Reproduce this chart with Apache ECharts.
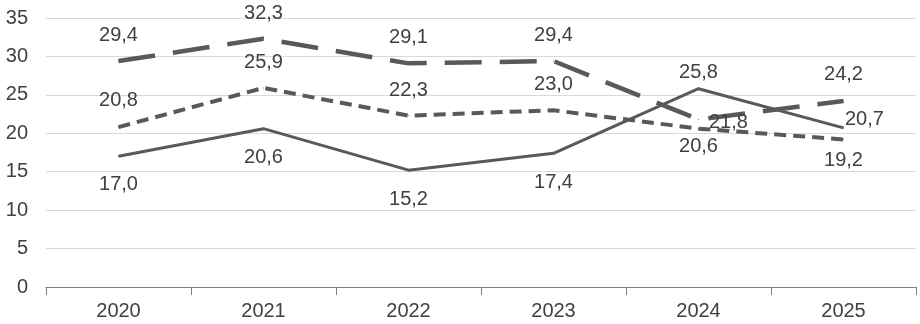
<!DOCTYPE html>
<html>
<head>
<meta charset="utf-8">
<script src="https://cdn.jsdelivr.net/npm/echarts@6/dist/echarts.min.js"></script>
<style>
  html, body { margin: 0; padding: 0; background: #fff; }
  #chart { width: 920px; height: 324px; }
</style>
</head>
<body>
<div id="chart"></div>
<script>
  let years = ['2020', '2021', '2022', '2023', '2024', '2025'];
  let longDash = [29.4, 32.3, 29.1, 29.4, 21.8, 24.2];
  let shortDash = [20.8, 25.9, 22.3, 23.0, 20.6, 19.2];
  let solid = [17.0, 20.6, 15.2, 17.4, 25.8, 20.7];

  // label placement per point (kept apart from the values)
  let longPos = [['top', 15], ['top', 15], ['top', 15], ['top', 15], ['right', 10, 3], ['top', 16]];
  let shortPos = [['top', 16], ['top', 15], ['top', 15], ['top', 15], ['bottom', 7], ['bottom', 11]];
  let solidPos = [['bottom', 18], ['bottom', 18], ['bottom', 19], ['bottom', 19], ['top', 6], ['right', 1, -8]];

  function fmt(v) {
    return v.toFixed(1).replace('.', ',');
  }

  function build(values, pos) {
    return values.map(function (v, i) {
      let p = pos[i];
      return {
        value: v,
        label: {
          position: p[0],
          distance: p[1],
          offset: [0, p[2] || 0]
        }
      };
    });
  }

  let labelStyle = {
    show: true,
    color: '#404040',
    fontSize: 20,
    fontFamily: 'Liberation Sans, Arial, sans-serif',
    formatter: function (p) { return fmt(p.value); }
  };

  let option = {
    animation: false,
    grid: {
      left: 46,
      right: 4,
      top: 18,
      bottom: 37
    },
    xAxis: {
      type: 'category',
      data: years,
      boundaryGap: true,
      axisLine: { lineStyle: { color: '#7f7f7f', width: 1 } },
      axisTick: { show: true, length: 8, lineStyle: { color: '#7f7f7f' } },
      axisLabel: {
        color: '#404040',
        fontSize: 20,
        margin: 14,
        fontFamily: 'Liberation Sans, Arial, sans-serif'
      }
    },
    yAxis: {
      type: 'value',
      min: 0,
      max: 35,
      interval: 5,
      axisLine: { show: false },
      axisTick: { show: false },
      axisLabel: {
        color: '#404040',
        fontSize: 20,
        margin: 18,
        fontFamily: 'Liberation Sans, Arial, sans-serif'
      },
      splitLine: { lineStyle: { color: '#d9d9d9', width: 1 } }
    },
    series: [
      {
        name: 'long',
        type: 'line',
        data: build(longDash, longPos),
        symbol: 'circle',
        symbolSize: 1,
        itemStyle: { color: '#595959' },
        lineStyle: { color: '#595959', width: 4.5, type: [37, 18] },
        label: labelStyle,
        z: 3
      },
      {
        name: 'short',
        type: 'line',
        data: build(shortDash, shortPos),
        symbol: 'circle',
        symbolSize: 1,
        itemStyle: { color: '#595959' },
        lineStyle: { color: '#595959', width: 4, type: [12, 7] },
        label: labelStyle,
        z: 2
      },
      {
        name: 'solid',
        type: 'line',
        data: build(solid, solidPos),
        symbol: 'circle',
        symbolSize: 1,
        itemStyle: { color: '#595959' },
        lineStyle: { color: '#595959', width: 3 },
        label: labelStyle,
        z: 4
      }
    ]
  };

  var myChart = echarts.init(document.getElementById('chart'));
  myChart.setOption(option);
</script>
</body>
</html>
